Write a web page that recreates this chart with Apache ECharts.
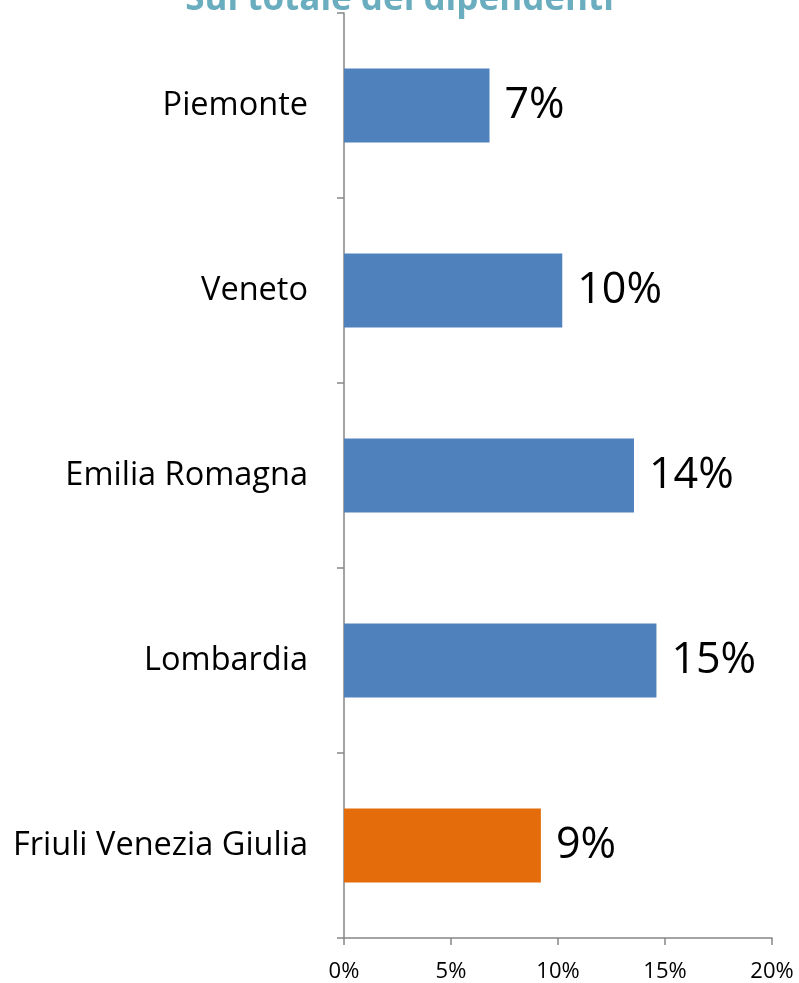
<!DOCTYPE html>
<html><head><meta charset="utf-8">
<script src="https://cdn.jsdelivr.net/npm/echarts@6/dist/echarts.min.js"></script>
<style>html,body{margin:0;padding:0;background:#fff}#c{width:799px;height:983px}</style>
</head><body><div id="c"></div>
<script>
const categories = ['Piemonte', 'Veneto', 'Emilia Romagna', 'Lombardia', 'Friuli Venezia Giulia'];
const values = [6.8, 10.2, 13.55, 14.6, 9.2];
const barColors = ['#4F81BD', '#4F81BD', '#4F81BD', '#4F81BD', '#E46C0A'];
const xTicks = [0, 5, 10, 15, 20];

const chart = echarts.init(document.getElementById('c'));
chart.setOption({
  animation: false,
  title: {
    text: 'Sul totale dei dipendenti',
    left: 'center', top: -22,
    textStyle: {fontFamily: 'Open Sans', fontSize: 35, fontWeight: 'bold', color: '#6AADBF'}
  },
  grid: {left: 344, right: 27, top: 13, bottom: 45},
  xAxis: {
    type: 'value', min: xTicks[0], max: xTicks[xTicks.length - 1], interval: 5,
    axisLine: {show: true, lineStyle: {color: '#868686', width: 1.5}},
    axisTick: {show: true, length: 7, lineStyle: {color: '#868686', width: 1.5}},
    splitLine: {show: false},
    axisLabel: {formatter: v => v + '%', fontFamily: 'Open Sans', fontSize: 22, color: '#000', margin: 23}
  },
  yAxis: {
    type: 'category', data: categories, inverse: true,
    axisLine: {lineStyle: {color: '#868686', width: 1.5}},
    axisTick: {show: true, length: 7, lineStyle: {color: '#868686', width: 1.5}},
    axisLabel: {fontFamily: 'Open Sans', fontSize: 32.5, color: '#000', margin: 36}
  },
  series: [{
    type: 'bar', barWidth: '40%',
    data: values.map((v, i) => ({value: v, itemStyle: {color: barColors[i]}})),
    label: {show: true, position: 'right', distance: 15, formatter: p => Math.round(p.value) + '%',
      fontFamily: 'Open Sans', fontSize: 43, color: '#000'}
  }]
});
</script></body></html>
